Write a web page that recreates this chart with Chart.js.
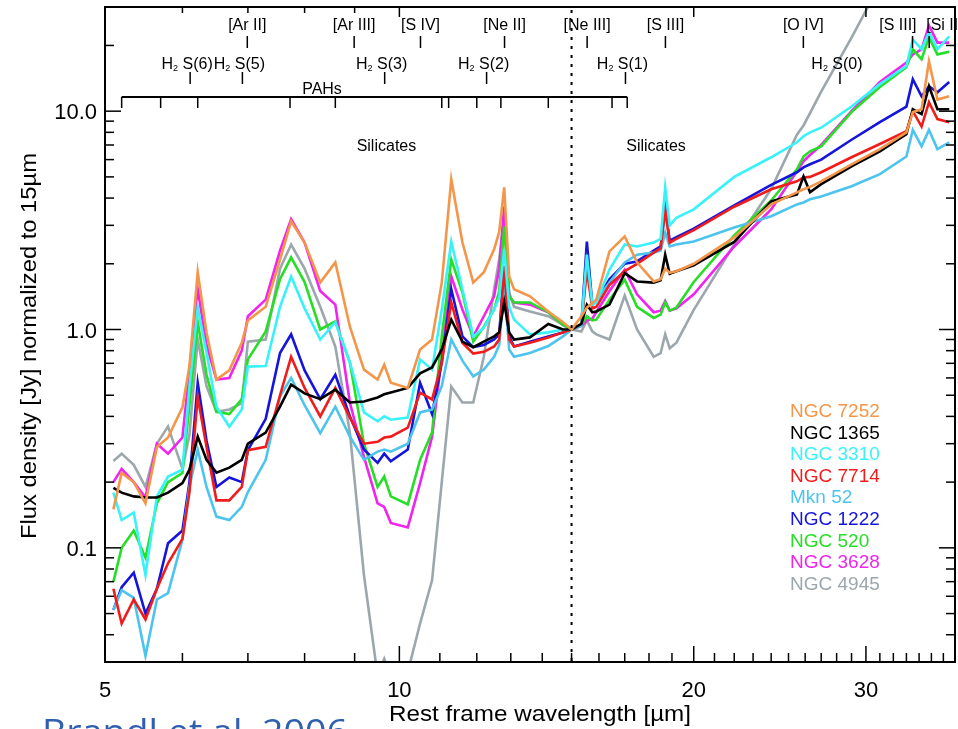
<!DOCTYPE html>
<html>
<head>
<meta charset="utf-8">
<script src="https://cdn.jsdelivr.net/npm/chart.js@4.4.1/dist/chart.umd.min.js"></script>
<style>
  html, body { margin: 0; padding: 0; background: #fff; }
  #wrap { width: 958px; height: 729px; position: relative; overflow: hidden; }
</style>
</head>
<body>
<div id="wrap"><canvas id="spectra" width="958" height="729"></canvas></div>
<script>
// ============================================================
// IRS starburst spectra, normalised at 15 µm (log-log)
// ============================================================

// ── Data ──────────────────────────────────────────────────
const wavelengths = [5.1, 5.2, 5.35, 5.5, 5.65, 5.8, 6.0, 6.1, 6.22, 6.35, 6.5, 6.7, 6.9, 7.0, 7.3, 7.55, 7.75, 8.0, 8.3, 8.6,
  8.9, 9.2, 9.5, 9.65, 9.8, 10.2, 10.5, 10.8, 11.05, 11.3, 11.6, 11.9, 12.2, 12.5, 12.65, 12.8, 12.95, 13.1, 13.6, 14.2, 14.7, 15.0,
  15.35, 15.55, 15.75, 15.9, 16.4, 17.0, 17.5, 18.2, 18.5, 18.7, 18.9, 19.2, 20, 22, 24, 25.5, 25.9, 26.3, 27, 29, 31, 33.0, 33.5, 34.2, 34.8, 35.5, 36.5];

const ngc7252 = [0.15, 0.22, 0.20, 0.16, 0.29, 0.32, 0.44, 0.68, 1.83, 0.97, 0.59, 0.65, 0.87, 1.1, 1.27, 2.09, 3.13, 2.5, 1.64, 2.03,
  1.03, 0.655, 0.59, 0.69, 0.57, 0.54, 0.81, 0.90, 1.64, 4.88, 2.51, 1.64, 1.83, 2.33, 2.8, 4.48, 1.75, 1.53, 1.42, 1.21, 1.08, 1.0,
  1.15, 1.26, 1.32, 1.37, 2.28, 2.67, 2.03, 1.66, 1.7, 1.9, 1.82, 1.85, 2.0, 2.64, 3.74, 4.25, 4.39, 4.5, 4.77, 5.71, 6.70, 8.0, 9.9, 10.2, 16.9, 11.3, 11.7];
const ngc1365 = [0.188, 0.179, 0.172, 0.170, 0.170, 0.179, 0.198, 0.228, 0.323, 0.253, 0.221, 0.233, 0.253, 0.30, 0.337, 0.443, 0.559, 0.51, 0.48, 0.53,
  0.463, 0.468, 0.488, 0.505, 0.515, 0.54, 0.63, 0.67, 0.81, 1.11, 0.88, 0.83, 0.88, 0.93, 0.97, 1.33, 0.97, 0.90, 0.92, 1.06, 1.0, 1.0,
  1.06, 1.30, 1.2, 1.21, 1.30, 1.81, 1.66, 1.64, 1.68, 2.2, 1.8, 1.85, 1.97, 2.52, 3.86, 4.16, 5.03, 4.25, 4.63, 5.59, 6.55, 7.85, 10.2, 9.7, 13.0, 10.2, 10.2];
const ngc3310 = [0.179, 0.134, 0.145, 0.075, 0.172, 0.212, 0.228, 0.548, 1.26, 0.784, 0.443, 0.359, 0.43, 0.676, 0.68, 1.27, 1.75, 1.25, 0.9, 1.08,
  0.706, 0.417, 0.38, 0.40, 0.386, 0.395, 0.73, 0.655, 1.235, 2.53, 1.53, 0.93, 1.02, 1.235, 1.4, 2.33, 1.27, 1.11, 0.95, 0.97, 1.0, 1.0,
  1.05, 2.2, 1.3, 1.33, 1.88, 2.45, 2.4, 2.5, 2.6, 4.48, 3.0, 3.25, 3.55, 5.0, 6.15, 7.2, 7.68, 8.0, 8.4, 10.5, 13.3, 16.1, 21.3, 19.2, 23, 19.2, 22];
const ngc7714 = [0.065, 0.045, 0.058, 0.047, 0.065, 0.085, 0.11, 0.18, 0.49, 0.29, 0.165, 0.165, 0.19, 0.28, 0.29, 0.50, 0.75, 0.54, 0.40, 0.54,
  0.395, 0.30, 0.306, 0.32, 0.323, 0.355, 0.514, 0.478, 0.706, 1.33, 0.87, 0.776, 0.79, 0.836, 0.9, 1.95, 0.9, 0.836, 0.87, 0.92, 0.97, 1.0,
  1.05, 1.88, 1.25, 1.27, 1.6, 1.85, 2.0, 2.25, 2.35, 3.55, 2.5, 2.6, 2.85, 3.65, 4.39, 4.77, 4.97, 5.0, 5.25, 6.15, 7.07, 8.1, 10.0, 8.5, 11.0, 9.2, 8.9];
const mkn52 = [0.052, 0.064, 0.059, 0.032, 0.058, 0.062, 0.109, 0.19, 0.282, 0.19, 0.139, 0.134, 0.154, 0.18, 0.253, 0.494, 0.60, 0.45, 0.335, 0.443,
  0.323, 0.253, 0.276, 0.282, 0.276, 0.30, 0.417, 0.43, 0.55, 0.9, 0.72, 0.61, 0.655, 0.75, 0.85, 1.6, 0.81, 0.75, 0.78, 0.84, 0.93, 1.0,
  1.04, 2.0, 1.28, 1.37, 1.64, 2.03, 2.2, 2.25, 2.3, 2.78, 2.4, 2.45, 2.53, 2.93, 3.3, 3.74, 3.82, 3.95, 4.07, 4.53, 5.15, 6.2, 8.2, 6.9, 8.2, 6.7, 7.2];
const ngc1222 = [0.052, 0.066, 0.077, 0.05, 0.065, 0.105, 0.12, 0.20, 0.57, 0.31, 0.19, 0.21, 0.20, 0.28, 0.39, 0.78, 0.95, 0.65, 0.48, 0.62,
  0.40, 0.282, 0.245, 0.27, 0.249, 0.282, 0.57, 0.41, 0.706, 1.53, 0.93, 0.83, 0.85, 0.90, 0.95, 1.95, 0.93, 0.836, 0.88, 0.93, 0.97, 1.0,
  1.05, 2.53, 1.3, 1.35, 1.7, 2.0, 2.05, 2.3, 2.4, 3.6, 2.55, 2.65, 2.9, 3.7, 4.6, 5.25, 5.53, 5.71, 6.0, 7.4, 8.9, 10.5, 14.0, 11.7, 13.0, 12.2, 13.6];
const ngc520 = [0.07, 0.10, 0.12, 0.09, 0.16, 0.20, 0.22, 0.45, 1.08, 0.62, 0.42, 0.41, 0.48, 0.73, 0.98, 1.7, 2.14, 1.65, 1.0, 1.09,
  0.706, 0.30, 0.19, 0.212, 0.172, 0.158, 0.253, 0.337, 0.93, 2.09, 1.48, 0.88, 1.03, 1.235, 1.5, 2.97, 1.42, 1.33, 1.33, 1.2, 1.05, 1.0,
  1.05, 1.15, 1.1, 1.11, 1.37, 1.69, 1.27, 1.13, 1.17, 1.33, 1.22, 1.26, 1.65, 2.7, 3.9, 5.42, 6.2, 6.55, 6.9, 9.9, 12.9, 15.9, 19.2, 17.3, 21.8, 18.2, 18.7];
const ngc3628 = [0.20, 0.23, 0.20, 0.17, 0.3, 0.27, 0.32, 0.65, 1.53, 0.85, 0.59, 0.6, 0.8, 1.15, 1.37, 2.3, 3.2, 2.5, 1.5, 1.30,
  0.463, 0.261, 0.16, 0.154, 0.13, 0.124, 0.198, 0.323, 0.75, 1.75, 1.235, 0.93, 1.15, 1.42, 1.9, 3.66, 1.42, 1.33, 1.30, 1.2, 1.05, 1.0,
  1.04, 1.1, 1.12, 1.2, 1.5, 1.88, 1.45, 1.2, 1.22, 1.35, 1.22, 1.25, 1.45, 2.4, 3.55, 5.3, 5.9, 6.3, 7.0, 10.0, 13.6, 16.7, 18.2, 19.2, 24.7, 20.6, 20.6];
const ngc4945 = [0.25, 0.27, 0.24, 0.19, 0.30, 0.36, 0.23, 0.33, 0.90, 0.55, 0.42, 0.43, 0.46, 0.88, 0.9, 1.9, 2.45, 1.9, 1.27, 0.836,
  0.337, 0.075, 0.026, 0.031, 0.026, 0.027, 0.045, 0.071, 0.2, 0.548, 0.463, 0.463, 0.75, 1.53, 2.1, 3.2, 1.48, 1.27, 1.21, 1.15, 1.05, 1.0,
  0.98, 1.1, 0.98, 0.95, 0.9, 1.43, 1.0, 0.75, 0.78, 0.95, 0.82, 0.87, 1.23, 2.45, 4.4, 7.8, 8.6, 9.8, 12.3, 21.7, 38, null, null, null, null, null, null];

const galaxyNames = ["NGC 7252", "NGC 1365", "NGC 3310", "NGC 7714", "Mkn 52", "NGC 1222", "NGC 520", "NGC 3628", "NGC 4945"];
const galaxyFlux = [ngc7252, ngc1365, ngc3310, ngc7714, mkn52, ngc1222, ngc520, ngc3628, ngc4945];
const galaxyColors = ["#f4964a", "#000000", "#38f2fa", "#f01c1c", "#4cc4ee", "#1414dc", "#26de26", "#f024ee", "#9ba7ad"];

const xTickLabels = [5, 10, 20, 30];
const yTickLabels = [0.1, 1, 10];
const normWave = 15;

// emission lines and PAH bands marked along the top
const ionLabels = ["[Ar II]", "[Ar III]", "[S IV]", "[Ne II]", "[Ne III]", "[S III]", "[O IV]", "[S III]", "[Si II]"];
const ionWaves = [6.99, 8.99, 10.51, 12.81, 15.56, 18.71, 25.89, 33.48, 34.82];
const h2Labels = ["S(6)", "S(5)", "S(3)", "S(2)", "S(1)", "S(0)"];
const h2Waves = [6.11, 6.91, 9.66, 12.28, 17.03, 28.22];
const pahWaves = [5.2, 5.7, 6.22, 7.73, 8.6, 11.05, 11.23, 12.0, 12.7, 14.2, 16.5, 17.1];
const silicateWaves = [9.7, 18.3];

const FONT = '"Liberation Sans", Arial, Helvetica, sans-serif';

// ── Helpers ───────────────────────────────────────────────
function seg(ctx, x1, y1, x2, y2) {
  ctx.beginPath();
  ctx.moveTo(x1, y1);
  ctx.lineTo(x2, y2);
  ctx.stroke();
}

// draw text squeezed/stretched horizontally to a given width
function fitText(ctx, text, x, y, width) {
  const w = ctx.measureText(text).width;
  if (!width) { ctx.fillText(text, x, y); return; }
  ctx.save();
  ctx.translate(x, y);
  ctx.scale(width / w, 1);
  ctx.fillText(text, 0, 0);
  ctx.restore();
}

function drawH2(ctx, trans, cx, base) {
  ctx.font = "16px " + FONT;
  const wH = ctx.measureText("H").width;
  const wT = ctx.measureText(" " + trans).width;
  ctx.font = "9px " + FONT;
  const w2 = ctx.measureText("2").width;
  const x0 = cx - (wH + w2 + wT) / 2;
  ctx.textAlign = "left";
  ctx.font = "16px " + FONT;
  ctx.fillText("H", x0, base);
  ctx.font = "9px " + FONT;
  ctx.fillText("2", x0 + wH, base + 2);
  ctx.font = "16px " + FONT;
  ctx.fillText(" " + trans, x0 + wH + w2, base);
}

// ── Axes frame, ticks, labels and annotations ─────────────
const decorations = {
  id: "decorations",
  afterDatasetsDraw(chart) {
    const { ctx, chartArea: a, scales: { x, y } } = chart;
    ctx.save();
    ctx.strokeStyle = "#000";
    ctx.fillStyle = "#000";

    // dotted line at the normalisation wavelength
    const xn = x.getPixelForValue(normWave);
    ctx.lineWidth = 2;
    ctx.setLineDash([3, 6]);
    seg(ctx, xn, a.top + 3, xn, a.bottom);
    ctx.setLineDash([]);

    // frame
    ctx.lineWidth = 2;
    ctx.strokeRect(a.left, a.top, a.right - a.left, a.bottom - a.top);

    // x ticks (inward)
    ctx.lineWidth = 1.5;
    for (let v = 6; v <= 37; v++) {
      const px = x.getPixelForValue(v);
      const major = v % 10 === 0;
      seg(ctx, px, a.bottom, px, a.bottom - (major ? 16 : 9));
      if (major || v < 10) seg(ctx, px, a.top, px, a.top + (major ? 10 : 6));
    }
    // y ticks (inward, both sides)
    [0.01, 0.1, 1, 10].forEach((dec) => {
      for (let m = 1; m <= 9; m++) {
        const v = dec * m;
        if (v < 0.03 || v > 30) continue;
        const py = y.getPixelForValue(v);
        const len = m === 1 ? 16 : 9;
        seg(ctx, a.left, py, a.left + len, py);
        seg(ctx, a.right, py, a.right - len, py);
      }
    });

    // tick labels
    ctx.font = "22px " + FONT;
    ctx.textAlign = "center";
    xTickLabels.forEach((v) => {
      ctx.fillText(String(v), x.getPixelForValue(v), 697);
    });
    ctx.textAlign = "right";
    yTickLabels.forEach((v) => {
      ctx.fillText(v.toFixed(1), 97, y.getPixelForValue(v) + 8);
    });

    // axis titles
    ctx.textAlign = "center";
    ctx.font = "22px " + FONT;
    fitText(ctx, "Rest frame wavelength [\u00b5m]", 540, 721, 302);
    ctx.save();
    ctx.translate(36, 346);
    ctx.rotate(-Math.PI / 2);
    fitText(ctx, "Flux density [Jy] normalized to 15\u00b5m", 0, 0, 386);
    ctx.restore();

    // ion labels with their ticks
    ctx.font = "16px " + FONT;
    ctx.lineWidth = 1.5;
    ionWaves.forEach((w, i) => {
      const px = x.getPixelForValue(w);
      seg(ctx, px, 36, px, 48);
      let tx = px;
      ctx.textAlign = "center";
      if (i === 7) { ctx.textAlign = "right"; tx = px + 4; }
      if (i === 8) { ctx.textAlign = "left"; tx = px - 3; }
      ctx.fillText(ionLabels[i], tx, 30);
    });

    // H2 rotational lines
    h2Waves.forEach((w, i) => {
      const px = x.getPixelForValue(w);
      drawH2(ctx, h2Labels[i], px - 3, 69);
      seg(ctx, px, 72, px, 84);
    });

    // PAH bracket
    const p0 = x.getPixelForValue(pahWaves[0]);
    const p1 = x.getPixelForValue(pahWaves[pahWaves.length - 1]);
    ctx.lineWidth = 2;
    seg(ctx, p0, 97, p1, 97);
    ctx.lineWidth = 1.5;
    pahWaves.forEach((w) => {
      const px = x.getPixelForValue(w);
      seg(ctx, px, 97, px, 108);
    });
    ctx.textAlign = "center";
    ctx.font = "16px " + FONT;
    ctx.fillText("PAHs", 322, 94);

    // silicate features
    silicateWaves.forEach((w) => {
      ctx.fillText("Silicates", x.getPixelForValue(w), 151);
    });

    // legend
    ctx.textAlign = "left";
    ctx.font = "19px " + FONT;
    galaxyNames.forEach((name, i) => {
      ctx.fillStyle = galaxyColors[i];
      fitText(ctx, name, 790, 417 + i * 21.6, null);
    });

    // reference, cut off at the bottom edge
    ctx.fillStyle = "#2f5fae";
    ctx.font = '34px "Open Sans", "Liberation Sans", sans-serif';
    ctx.textAlign = "left";
    fitText(ctx, "Brandl et al. 2006", 42, 744, 306);

    ctx.restore();
  }
};

// ── Chart ─────────────────────────────────────────────────
const datasets = galaxyFlux.map((flux, i) => ({
  label: galaxyNames[i],
  data: wavelengths.map((w, j) => ({ x: w, y: flux[j] })),
  borderColor: galaxyColors[i],
  borderWidth: 2.6,
  pointRadius: 0,
  tension: 0,
  spanGaps: false,
  fill: false,
}));

new Chart(document.getElementById("spectra"), {
  type: "line",
  data: { datasets },
  options: {
    responsive: false,
    animation: false,
    devicePixelRatio: 1,
    layout: { padding: { top: 7, right: 3, left: 0, bottom: 0 } },
    plugins: { legend: { display: false }, tooltip: { enabled: false } },
    scales: {
      x: {
        type: "logarithmic",
        min: 5,
        max: 37,
        grid: { display: false },
        border: { display: false },
        ticks: { display: false },
        afterFit: (s) => { s.height = 67; },
      },
      y: {
        type: "logarithmic",
        min: 0.03,
        max: 30,
        grid: { display: false },
        border: { display: false },
        ticks: { display: false },
        afterFit: (s) => { s.width = 105; },
      },
    },
  },
  plugins: [decorations],
});
</script>
</body>
</html>
